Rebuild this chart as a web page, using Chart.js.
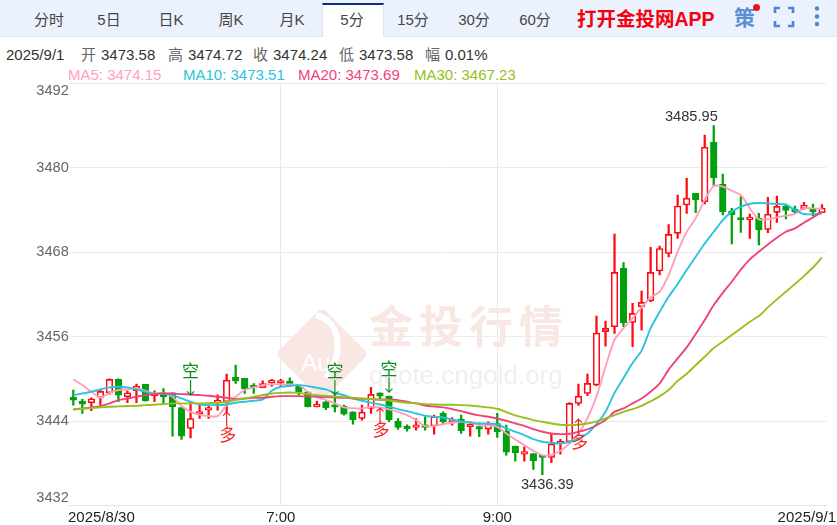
<!DOCTYPE html>
<html lang="zh-CN">

<head>
    <meta charset="UTF-8">
    <title>金投网 5分 K线</title>
    <script src="https://cdn.jsdelivr.net/npm/chart.js"></script>
    <style>
        html, body { margin: 0; padding: 0; background: #fff; }
        body { position: relative; width: 837px; height: 525px; overflow: hidden; font-family: "Liberation Sans", "Noto Sans CJK SC", sans-serif; }
        #bar { position: absolute; left: 0; top: 0; width: 837px; height: 36px; background: #ebf2fd; border-bottom: 1px solid #dbe4f2; }
        #active { position: absolute; left: 322px; top: 3px; width: 60px; background: #fff; border-top: 2px solid #0b2a8c; border-left: 1px solid #dbe4f2; border-right: 1px solid #dbe4f2; height: 32px; }
        .tab { position: absolute; top: 10px; width: 60px; text-align: center; font-size: 15px; line-height: 20px; color: #444; transform: translateX(-50%); }
        #app { position: absolute; left: 577px; top: 7px; font-size: 19.5px; line-height: 24px; font-weight: bold; color: #f5000f; white-space: nowrap; }
        #ce { position: absolute; left: 734px; top: 5px; font-size: 21px; line-height: 26px; font-weight: bold; color: #5b90d2; }
        #dot { position: absolute; left: 753px; top: 4px; width: 7px; height: 7px; border-radius: 50%; background: #f0101c; }
        #icons { position: absolute; left: 770px; top: 4px; }
        .t { position: absolute; white-space: nowrap; font-size: 15px; line-height: 18px; }
        .r1 { top: 46px; color: #333; }
        .lb { color: #666; }
        .r2 { top: 66px; }
        canvas { position: absolute; left: 0; top: 0; }
    </style>
</head>

<body>
    <div id="bar">
        <div id="active"></div>
        <span class="tab" style="left:49px">分时</span>
        <span class="tab" style="left:109px">5日</span>
        <span class="tab" style="left:171px">日K</span>
        <span class="tab" style="left:231px">周K</span>
        <span class="tab" style="left:292px">月K</span>
        <span class="tab" style="left:352px">5分</span>
        <span class="tab" style="left:413px">15分</span>
        <span class="tab" style="left:474px">30分</span>
        <span class="tab" style="left:535px">60分</span>
        <span id="app">打开金投网APP</span>
        <span id="ce">策</span>
        <span id="dot"></span>
        <svg id="icons" width="60" height="28" fill="none" stroke="#4a87d0" stroke-width="2.6">
            <path d="M5 9V4H10M18 4H23V9M23 17V22H18M10 22H5V17" />
            <g fill="#4a87d0" stroke="none">
                <circle cx="47" cy="4.5" r="2.2" />
                <circle cx="47" cy="12.5" r="2.2" />
                <circle cx="47" cy="20" r="2.2" />
            </g>
        </svg>
    </div>

    <span class="t r1" style="left:6px">2025/9/1</span>
    <span class="t r1 lb" style="left:81px">开</span><span class="t r1" style="left:101px">3473.58</span>
    <span class="t r1 lb" style="left:168px">高</span><span class="t r1" style="left:188px">3474.72</span>
    <span class="t r1 lb" style="left:253px">收</span><span class="t r1" style="left:273px">3474.24</span>
    <span class="t r1 lb" style="left:339px">低</span><span class="t r1" style="left:359px">3473.58</span>
    <span class="t r1 lb" style="left:425px">幅</span><span class="t r1" style="left:445px">0.01%</span>

    <span class="t r2" style="left:68px;color:#ff9fbd">MA5: 3474.15</span>
    <span class="t r2" style="left:183px;color:#2bc3dd">MA10: 3473.51</span>
    <span class="t r2" style="left:298px;color:#ee4579">MA20: 3473.69</span>
    <span class="t r2" style="left:414px;color:#97bf1e">MA30: 3467.23</span>

    <canvas id="kline" width="837" height="525"></canvas>

    <script>
        const categories = [
            '5:05', '5:10', '5:15', '5:20', '5:25', '5:30', '5:35', '5:40', '5:45', '5:50', '5:55', '6:00',
            '6:05', '6:10', '6:15', '6:20', '6:25', '6:30', '6:35', '6:40', '6:45', '6:50', '6:55', '7:00',
            '7:05', '7:10', '7:15', '7:20', '7:25', '7:30', '7:35', '7:40', '7:45', '7:50', '7:55', '8:00',
            '8:05', '8:10', '8:15', '8:20', '8:25', '8:30', '8:35', '8:40', '8:45', '8:50', '8:55', '9:00',
            '9:05', '9:10', '9:15', '9:20', '9:25', '9:30', '9:35', '9:40', '9:45', '9:50', '9:55', '10:00',
            '10:05', '10:10', '10:15', '10:20', '10:25', '10:30', '10:35', '10:40', '10:45', '10:50', '10:55', '11:00',
            '11:05', '11:10', '11:15', '11:20', '11:25', '11:30', '11:35', '11:40', '11:45', '11:50', '11:55', '12:00'
        ];

        const opens = [
            3447.35, 3446.83, 3446.59, 3447.35, 3448.00, 3449.90, 3447.44, 3448.30, 3449.20, 3447.55, 3448.00, 3448.00,
            3445.90, 3442.94, 3445.00, 3445.55, 3446.60, 3446.73, 3450.20, 3450.05, 3449.00, 3448.72, 3449.45, 3449.40,
            3449.67, 3449.10, 3448.15, 3446.00, 3446.73, 3446.10, 3446.10, 3445.30, 3444.36, 3445.80, 3448.00, 3447.53,
            3443.98, 3443.27, 3443.10, 3443.27, 3443.28, 3445.08, 3443.84, 3444.22, 3443.18, 3442.94, 3442.85, 3443.65,
            3442.57, 3440.43, 3439.30, 3439.39, 3438.92, 3438.82, 3440.81, 3441.05, 3446.50, 3447.92, 3449.10, 3456.70,
            3457.39, 3465.67, 3458.00, 3460.23, 3461.08, 3465.30, 3467.80, 3470.65, 3474.67, 3476.33, 3475.15, 3483.58,
            3477.60, 3473.82, 3472.83, 3472.60, 3472.78, 3471.20, 3473.63, 3474.53, 3473.82, 3474.15, 3474.06, 3473.58
        ];
        const closes = [
            3446.97, 3446.40, 3447.16, 3448.20, 3449.90, 3447.68, 3448.00, 3448.96, 3446.87, 3447.65, 3447.44, 3446.00,
            3441.85, 3444.36, 3445.05, 3445.60, 3446.70, 3449.80, 3449.70, 3448.60, 3448.70, 3449.33, 3449.50, 3449.50,
            3448.96, 3448.15, 3446.00, 3446.35, 3445.90, 3445.95, 3444.98, 3444.20, 3445.26, 3447.77, 3447.53, 3444.20,
            3443.08, 3442.90, 3443.20, 3443.10, 3444.60, 3443.89, 3444.03, 3442.61, 3443.51, 3442.85, 3443.51, 3442.47,
            3439.58, 3439.49, 3439.63, 3438.35, 3438.82, 3440.72, 3441.00, 3446.50, 3447.50, 3449.34, 3456.50, 3457.15,
            3465.10, 3457.96, 3459.28, 3460.84, 3465.10, 3468.50, 3470.50, 3474.53, 3475.62, 3475.38, 3482.87, 3478.56,
            3473.73, 3473.25, 3472.54, 3472.70, 3471.12, 3473.35, 3474.48, 3473.92, 3473.70, 3474.67, 3473.73, 3474.24
        ];
        const highs = [
            3448.39, 3447.06, 3447.30, 3448.48, 3450.00, 3450.00, 3448.30, 3449.24, 3449.20, 3448.30, 3448.60, 3448.00,
            3445.90, 3446.73, 3446.26, 3446.26, 3447.70, 3450.66, 3451.94, 3450.05, 3449.33, 3449.70, 3449.90, 3449.90,
            3450.14, 3449.10, 3448.15, 3446.83, 3446.80, 3447.68, 3446.26, 3445.30, 3446.26, 3448.77, 3448.00, 3447.53,
            3444.36, 3443.46, 3444.36, 3444.60, 3444.84, 3445.30, 3444.50, 3444.84, 3443.89, 3443.75, 3443.89, 3445.08,
            3443.42, 3440.43, 3440.34, 3439.39, 3438.92, 3442.14, 3441.38, 3446.60, 3449.25, 3450.67, 3458.90, 3458.20,
            3470.55, 3466.50, 3460.70, 3462.45, 3468.66, 3468.85, 3471.90, 3476.10, 3478.46, 3476.33, 3484.62, 3485.95,
            3479.08, 3474.20, 3475.86, 3473.40, 3473.50, 3475.76, 3475.95, 3474.82, 3474.53, 3475.05, 3474.82, 3474.72
        ];
        const lows = [
            3446.26, 3445.07, 3445.45, 3446.26, 3447.80, 3446.73, 3446.60, 3446.60, 3446.80, 3446.73, 3446.50, 3441.85,
            3441.40, 3441.60, 3444.36, 3444.36, 3445.55, 3445.30, 3449.33, 3447.90, 3447.90, 3448.72, 3448.96, 3448.96,
            3448.86, 3447.68, 3446.00, 3446.00, 3445.60, 3445.30, 3444.84, 3443.56, 3444.13, 3445.07, 3447.20, 3443.90,
            3442.80, 3442.56, 3442.70, 3442.70, 3442.14, 3443.56, 3443.40, 3442.23, 3441.86, 3441.76, 3442.14, 3441.67,
            3439.16, 3438.30, 3438.30, 3437.12, 3436.39, 3438.07, 3439.30, 3440.80, 3446.20, 3447.60, 3449.00, 3454.64,
            3456.44, 3457.39, 3454.55, 3456.90, 3460.94, 3464.73, 3467.30, 3469.94, 3473.49, 3473.59, 3474.82, 3477.37,
            3473.25, 3469.14, 3470.79, 3469.94, 3469.00, 3470.74, 3472.20, 3472.70, 3473.60, 3474.06, 3473.16, 3473.58
        ];

        const ma5 = [
            3449.90, 3449.10, 3448.15, 3447.35, 3448.00, 3448.40, 3448.50, 3448.60, 3448.30, 3447.90, 3447.90, 3447.45,
            3446.10, 3445.30, 3444.90, 3444.70, 3444.70, 3446.25, 3447.45, 3448.40, 3448.77, 3449.10, 3449.24, 3449.20,
            3449.20, 3449.10, 3448.15, 3447.44, 3446.97, 3446.50, 3445.93, 3445.80, 3445.80, 3446.02, 3445.93, 3445.64,
            3445.30, 3444.84, 3444.13, 3443.27, 3443.27, 3443.56, 3443.75, 3443.90, 3443.75, 3443.40, 3443.40, 3443.18,
            3442.23, 3441.38, 3440.58, 3439.77, 3439.16, 3439.16, 3439.77, 3440.81, 3442.20, 3444.40, 3447.50, 3451.70,
            3455.50, 3457.15, 3458.57, 3460.13, 3461.55, 3462.36, 3464.73, 3468.04, 3470.88, 3472.78, 3475.40, 3477.37,
            3477.28, 3476.70, 3476.10, 3474.20, 3472.64, 3472.64, 3472.92, 3473.16, 3473.40, 3474.20, 3474.20, 3474.15
        ];
        const ma10 = [
            3447.68, 3447.90, 3448.15, 3448.48, 3448.77, 3448.86, 3448.77, 3448.48, 3448.15, 3447.90, 3447.90, 3447.68,
            3447.20, 3446.73, 3446.35, 3446.26, 3446.26, 3446.35, 3446.60, 3446.73, 3446.87, 3447.06, 3448.30, 3448.86,
            3449.00, 3449.10, 3448.96, 3448.72, 3448.48, 3448.00, 3447.68, 3447.20, 3446.87, 3446.60, 3446.35, 3446.02,
            3445.69, 3445.40, 3445.07, 3444.74, 3444.60, 3444.50, 3444.22, 3443.90, 3443.80, 3443.65, 3443.65, 3443.51,
            3442.94, 3442.47, 3442.00, 3441.43, 3441.05, 3440.90, 3440.81, 3441.05, 3441.50, 3442.23, 3443.56, 3445.30,
            3448.00, 3450.10, 3452.25, 3454.00, 3457.15, 3459.50, 3461.65, 3463.45, 3465.44, 3467.33, 3469.20, 3470.88,
            3472.54, 3473.72, 3474.44, 3474.86, 3474.96, 3474.90, 3474.82, 3474.72, 3473.96, 3473.40, 3473.35, 3473.51
        ];
        const ma20 = [
            3445.64, 3445.78, 3445.93, 3446.12, 3446.50, 3446.97, 3447.20, 3447.44, 3447.68, 3447.82, 3447.90, 3447.90,
            3447.82, 3447.77, 3447.68, 3447.58, 3447.44, 3447.30, 3447.11, 3447.20, 3447.30, 3447.30, 3447.44, 3447.53,
            3447.53, 3447.53, 3447.49, 3447.44, 3447.39, 3447.35, 3447.30, 3447.20, 3447.16, 3447.11, 3447.06, 3447.06,
            3446.97, 3446.73, 3446.50, 3446.20, 3446.05, 3445.93, 3445.69, 3445.40, 3445.07, 3444.79, 3444.60, 3444.36,
            3444.03, 3443.65, 3443.32, 3442.85, 3442.47, 3442.23, 3442.14, 3442.19, 3442.47, 3442.80, 3443.40, 3444.13,
            3445.30, 3445.78, 3446.50, 3447.20, 3448.15, 3449.33, 3451.30, 3452.90, 3454.45, 3456.35, 3458.33, 3460.47,
            3462.20, 3463.78, 3465.50, 3466.95, 3468.04, 3469.08, 3470.03, 3470.88, 3471.36, 3472.16, 3472.92, 3473.69
        ];
        const ma30 = [
            3445.64, 3445.74, 3445.83, 3445.93, 3446.02, 3446.07, 3446.12, 3446.16, 3446.26, 3446.30, 3446.40, 3446.50,
            3446.50, 3446.50, 3446.50, 3446.54, 3446.59, 3446.73, 3446.97, 3447.20, 3447.44, 3447.68, 3447.90, 3448.00,
            3448.05, 3448.00, 3447.82, 3447.68, 3447.58, 3447.49, 3447.39, 3447.30, 3447.20, 3447.11, 3447.00, 3446.92,
            3446.73, 3446.59, 3446.50, 3446.40, 3446.35, 3446.30, 3446.30, 3446.26, 3446.20, 3446.07, 3445.93, 3445.74,
            3445.27, 3444.79, 3444.46, 3444.13, 3443.89, 3443.65, 3443.47, 3443.42, 3443.47, 3443.65, 3443.95, 3444.36,
            3444.84, 3445.30, 3445.70, 3446.16, 3446.80, 3447.50, 3448.39, 3449.70, 3450.70, 3451.94, 3453.13, 3454.36,
            3455.26, 3456.20, 3457.15, 3458.10, 3458.90, 3460.13, 3461.27, 3462.36, 3463.45, 3464.58, 3465.80, 3467.23
        ];

        // x axis: which candles carry a label, and the label shown there
        const xTickIdx = [0, 23, 47, 83];
        const xTickText = ['2025/8/30', '7:00', '9:00', '2025/9/1'];
        const yTicks = { min: 3432, max: 3492, step: 12 };

        // 空 / 多 signals: candle index and the price the arrow points at
        const shortIdx = [13, 29, 35];
        const shortPrice = [3447.7, 3447.7, 3448.1];
        const longIdx = [17, 34, 56];
        const longPrice = [3445.27, 3445.84, 3444.27];

        const RED = '#ff0a10';
        const GREEN = '#02a00e';
        const FONT = '"Liberation Sans", "Noto Sans CJK SC", sans-serif';

        const isUp = closes.map((c, i) => c >= opens[i]);
        const candleColor = isUp.map(u => u ? RED : GREEN);

        // shift first/last tick labels so they sit inside, like the original
        const labelTweak = {
            id: 'labelTweak',
            beforeDraw(chart) {
                const xItems = chart.scales.x.getLabelItems(chart.chartArea);
                xItems[0].options.textAlign = 'left';
                xItems[0].options.translation[0] = 68;
                xItems[xItems.length - 1].options.textAlign = 'right';
                xItems[xItems.length - 1].options.translation[0] = 836;

                const yItems = chart.scales.y.getLabelItems(chart.chartArea);
                yItems[0].options.translation[1] = 498;
                yItems[yItems.length - 1].options.translation[1] = 91;
            }
        };

        // faded site logo behind the candles
        const watermark = {
            id: 'watermark',
            beforeDatasetsDraw(chart) {
                const ctx = chart.ctx;
                ctx.save();
                ctx.fillStyle = '#f8e7e3';
                ctx.save();
                ctx.translate(322, 354);
                ctx.rotate(Math.PI / 4);
                ctx.beginPath();
                ctx.roundRect(-33, -33, 66, 66, 5);
                ctx.fill();
                ctx.restore();

                ctx.strokeStyle = '#ffffff';
                ctx.lineWidth = 6;
                ctx.beginPath();
                ctx.moveTo(316, 315);
                ctx.bezierCurveTo(340, 322, 345, 350, 326, 378);
                ctx.stroke();

                ctx.fillStyle = '#ffffff';
                ctx.font = '24px ' + FONT;
                ctx.textAlign = 'center';
                ctx.textBaseline = 'middle';
                ctx.fillText('Au', 316, 364);

                ctx.fillStyle = '#f8e7e3';
                ctx.font = 'bold 44px "Noto Sans CJK SC"';
                ctx.textAlign = 'left';
                ctx.letterSpacing = '6px';
                ctx.fillText('金投行情', 369, 326);

                ctx.fillStyle = '#efefef';
                ctx.font = '26px ' + FONT;
                ctx.letterSpacing = '0px';
                ctx.fillText('quote.cngold.org', 369, 377);
                ctx.restore();
            }
        };

        // high/low price labels and the 空/多 signals
        const annotations = {
            id: 'annotations',
            afterDatasetsDraw(chart) {
                const ctx = chart.ctx;
                const x = chart.scales.x;
                const y = chart.scales.y;
                ctx.save();
                ctx.font = '14.6px ' + FONT;
                ctx.fillStyle = '#333';
                ctx.textBaseline = 'middle';

                const hi = highs.indexOf(Math.max(...highs));
                const lo = lows.indexOf(Math.min(...lows));
                ctx.textAlign = 'right';
                ctx.fillText(highs[hi].toFixed(2), x.getPixelForValue(hi) + 4, y.getPixelForValue(highs[hi]) - 9);
                ctx.textAlign = 'center';
                ctx.fillText(lows[lo].toFixed(2), x.getPixelForValue(lo) + 5, y.getPixelForValue(lows[lo]) + 10);

                ctx.font = '17px "Noto Sans CJK SC"';
                ctx.lineWidth = 1.2;
                shortIdx.forEach((k, i) => {
                    const px = x.getPixelForValue(k);
                    const py = y.getPixelForValue(shortPrice[i]);
                    ctx.strokeStyle = ctx.fillStyle = '#118a20';
                    ctx.beginPath();
                    ctx.moveTo(px, py - 15);
                    ctx.lineTo(px, py);
                    ctx.moveTo(px - 3.5, py - 3.5);
                    ctx.lineTo(px, py);
                    ctx.lineTo(px + 3.5, py - 3.5);
                    ctx.stroke();
                    ctx.fillText('空', px, py - 24);
                });
                longIdx.forEach((k, i) => {
                    const px = x.getPixelForValue(k);
                    const py = y.getPixelForValue(longPrice[i]);
                    ctx.strokeStyle = ctx.fillStyle = '#f02a2a';
                    ctx.beginPath();
                    ctx.moveTo(px, py + 14);
                    ctx.lineTo(px, py);
                    ctx.moveTo(px - 3.5, py + 3.5);
                    ctx.lineTo(px, py);
                    ctx.lineTo(px + 3.5, py + 3.5);
                    ctx.stroke();
                    ctx.fillText('多', px + 1, py + 22);
                });
                ctx.restore();
            }
        };

        function maLine(label, values, color) {
            return {
                type: 'line',
                label: label,
                data: values,
                borderColor: color,
                borderWidth: 1.9,
                pointRadius: 0,
                tension: 0.25,
                order: 0
            };
        }

        new Chart(document.getElementById('kline'), {
            type: 'bar',
            data: {
                labels: categories,
                datasets: [
                    maLine('MA30', ma30, '#97bf1e'),
                    maLine('MA20', ma20, '#ee4579'),
                    maLine('MA10', ma10, '#2bc3dd'),
                    maLine('MA5', ma5, '#ff9fbd'),
                    {
                        label: 'body',
                        data: closes.map((c, i) => [opens[i], c]),
                        backgroundColor: isUp.map((u, i) => u ? '#ffffff' : GREEN),
                        borderColor: candleColor,
                        borderWidth: 1.6,
                        borderSkipped: false,
                        barThickness: 6.6,
                        minBarLength: 2.5,
                        grouped: false,
                        order: 1
                    },
                    {
                        label: 'wick',
                        data: highs.map((h, i) => [lows[i], h]),
                        backgroundColor: candleColor,
                        borderWidth: 0,
                        barThickness: 1.6,
                        grouped: false,
                        order: 2
                    }
                ]
            },
            options: {
                responsive: false,
                animation: false,
                layout: { padding: { top: 83, right: 10.5, left: 0, bottom: 0 } },
                plugins: { legend: { display: false }, tooltip: { enabled: false } },
                scales: {
                    x: {
                        afterFit(scale) {
                            scale.height = 19.5;
                            // the long end labels must not shrink the plot
                            scale.paddingLeft = 0;
                            scale.paddingRight = 0;
                        },
                        afterBuildTicks(scale) { scale.ticks = xTickIdx.map(v => ({ value: v })); },
                        border: { color: '#e2e2e2' },
                        grid: {
                            offset: false,
                            drawTicks: false,
                            color: ctx => (ctx.index === 0 || ctx.index === xTickIdx.length - 1) ? 'rgba(0,0,0,0)' : '#e8e8e8'
                        },
                        ticks: {
                            autoSkip: false,
                            maxRotation: 0,
                            padding: 3,
                            color: '#222',
                            font: { family: FONT, size: 15 },
                            callback: (v, i) => xTickText[i]
                        }
                    },
                    y: {
                        min: yTicks.min,
                        max: yTicks.max,
                        afterFit(scale) { scale.width = 68.8; },
                        border: { display: false },
                        grid: { drawTicks: false, color: '#ececec' },
                        ticks: {
                            stepSize: yTicks.step,
                            padding: 0,
                            color: '#666',
                            font: { family: FONT, size: 14.6 },
                            callback: v => String(v)
                        }
                    }
                }
            },
            plugins: [labelTweak, watermark, annotations]
        });
    </script>
</body>

</html>
